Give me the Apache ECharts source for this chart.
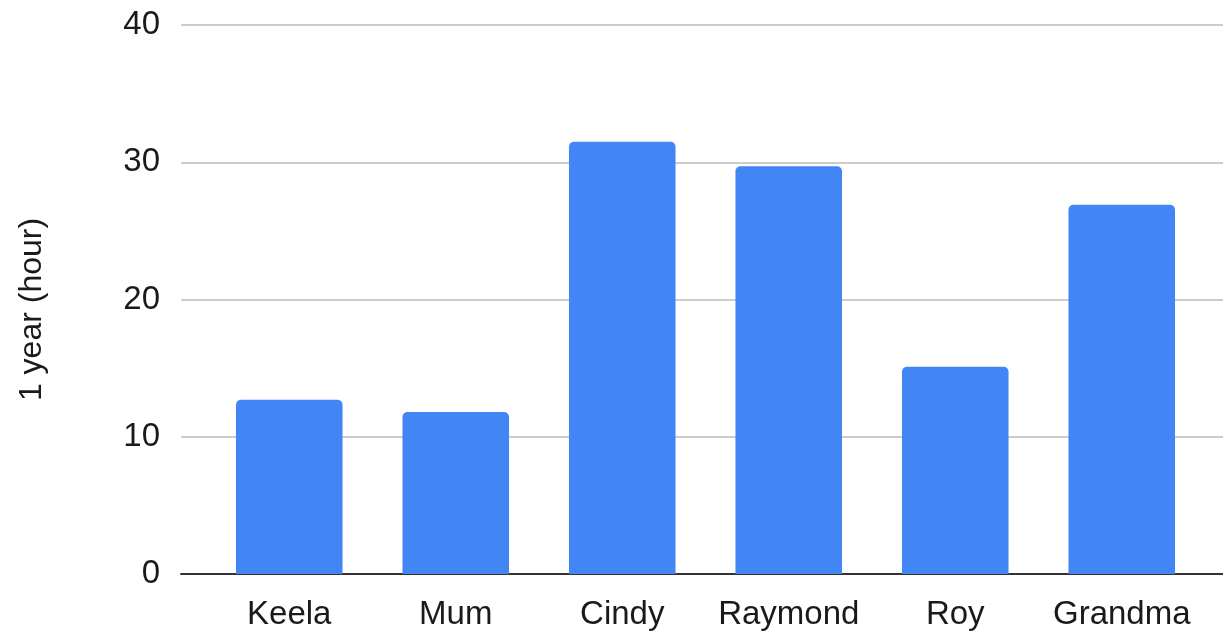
<!DOCTYPE html>
<html>
<head>
<meta charset="utf-8">
<script src="https://cdn.jsdelivr.net/npm/echarts@6/dist/echarts.min.js"></script>
<style>html,body{margin:0;padding:0;background:#fff}#c{width:1223px;height:632px}</style>
</head>
<body>
<div id="c"></div>
<script>
const categories = ['Keela', 'Mum', 'Cindy', 'Raymond', 'Roy', 'Grandma'];
const hours = [12.7, 11.8, 31.5, 29.7, 15.1, 26.9];
const yTicks = [0, 10, 20, 30, 40];
const yTitle = '1 year (hour)';

const font = '"Liberation Sans", Arial, sans-serif';
const chart = echarts.init(document.getElementById('c'));
chart.setOption({
  animation: false,
  backgroundColor: '#fff',
  grid: [
    { left: 181, right: 0, top: 25, bottom: 58 },
    { left: 206, right: 18, top: 25, bottom: 58 }
  ],
  xAxis: [
    { gridIndex: 0, type: 'value', min: 0, max: 1,
      axisLine: { show: true, lineStyle: { color: '#333', width: 2 } },
      axisTick: { show: false }, axisLabel: { show: false }, splitLine: { show: false } },
    { gridIndex: 1, type: 'category', data: categories,
      axisLine: { show: false }, axisTick: { show: false },
      axisLabel: { fontFamily: font, fontSize: 33, color: '#1a1a1a', margin: 24, interval: 0 } }
  ],
  yAxis: [
    { gridIndex: 0, type: 'value', min: yTicks[0], max: yTicks[yTicks.length - 1], interval: 10,
      name: yTitle, nameLocation: 'middle', nameGap: 133,
      nameTextStyle: { fontFamily: font, fontSize: 32, color: '#1a1a1a', padding: [0, 20, 0, 0] },
      axisLine: { show: false }, axisTick: { show: false },
      axisLabel: { fontFamily: font, fontSize: 33, color: '#1a1a1a', margin: 21 },
      splitLine: { lineStyle: { color: '#cccccc', width: 2 } } },
    { gridIndex: 1, type: 'value', min: yTicks[0], max: yTicks[yTicks.length - 1], interval: 10,
      show: false, splitLine: { show: false } }
  ],
  series: [{
    type: 'bar', xAxisIndex: 1, yAxisIndex: 1, data: hours,
    barWidth: '64%',
    itemStyle: { color: '#4285F4', borderRadius: [5, 5, 0, 0] }
  }]
});
</script>
</body>
</html>
